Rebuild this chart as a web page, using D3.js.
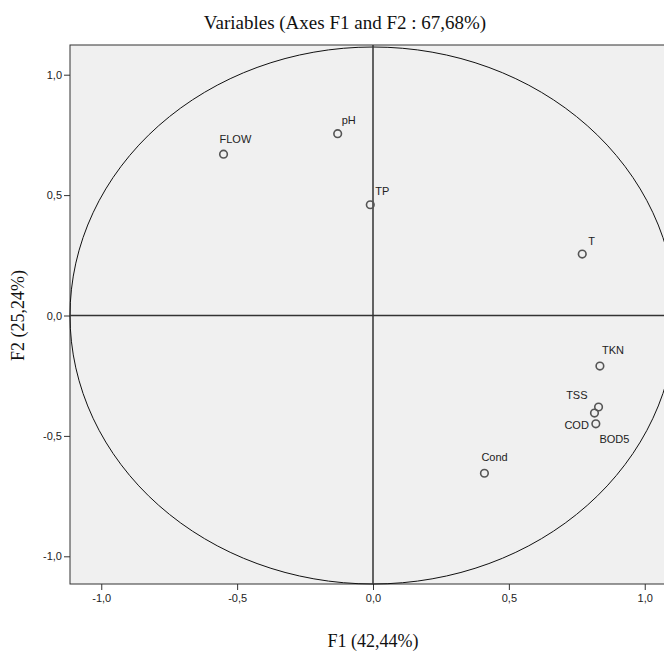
<!DOCTYPE html>
<meta charset="utf-8">
<style>
body { margin: 0; padding: 0; background: #fff; }
svg { display: block; overflow: hidden; }
.frame { fill: #f0f0f0; stroke: #333; stroke-width: 1px; }
.axis text { font-family: "Liberation Sans", Arial, sans-serif; font-size: 11px; fill: #222; }
.axis path { display: none; }
.axis line { stroke: #333; }
.crossline { stroke: #333; stroke-width: 1.5px; }
.circle { fill: none; stroke: #111; stroke-width: 1px; }
.pt { fill: none; stroke: #555; stroke-width: 1.6px; }
.lbl { font-family: "Liberation Sans", Arial, sans-serif; font-size: 11px; fill: #222; }
.ttl { font-family: "Liberation Serif", "Times New Roman", serif; fill: #111; }
</style>
<body>
<div id="chart"></div>
<script src="https://cdn.jsdelivr.net/npm/d3@7"></script>
<script>
// variable loadings on F1 / F2
var names = ["FLOW", "pH", "TP", "T", "TKN", "TSS", "BOD5", "COD", "Cond"];
var f1 = [-0.55, -0.13, -0.01, 0.77, 0.835, 0.83, 0.815, 0.82, 0.41];
var f2 = [0.67, 0.755, 0.46, 0.255, -0.21, -0.38, -0.405, -0.45, -0.655];
var ticks = [-1.0, -0.5, 0.0, 0.5, 1.0];

// label offsets (styling only)
var labelOffset = {
  FLOW: [-4, -11, "start"], pH: [4, -10, "start"], TP: [5, -10, "start"],
  T: [6, -9, "start"], TKN: [2, -12, "start"], TSS: [-11, -8, "end"],
  BOD5: [5, 30, "start"], COD: [-7, 5, "end"], Cond: [-3, -12, "start"]
};

var W = 664, H = 654;
var plotLeft = 70, plotTop = 47, plotBottom = 584, plotRight = 676;

var x = d3.scaleLinear().domain([-1.115, 1.115]).range([plotLeft, plotRight]);
var y = d3.scaleLinear().domain([-1.115, 1.115]).range([plotBottom, plotTop]);

var fmt = function(d) { return d3.format(".1f")(d).replace(".", ",").replace("\u2212", "-"); };

var svg = d3.select("#chart").append("svg")
    .attr("width", W)
    .attr("height", H);

svg.append("rect")
    .attr("class", "frame")
    .attr("x", plotLeft)
    .attr("y", plotTop - 2)
    .attr("width", plotRight - plotLeft)
    .attr("height", plotBottom - plotTop + 2);

svg.append("g")
    .attr("class", "axis")
    .attr("transform", "translate(0," + plotBottom + ")")
    .call(d3.axisBottom(x).tickValues(ticks).tickFormat(fmt).tickSize(6).tickPadding(4));

svg.append("g")
    .attr("class", "axis")
    .attr("transform", "translate(" + plotLeft + ",0)")
    .call(d3.axisLeft(y).tickValues(ticks).tickFormat(fmt).tickSize(6).tickPadding(2));

// correlation circle
svg.append("ellipse")
    .attr("class", "circle")
    .attr("cx", x(0))
    .attr("cy", y(0))
    .attr("rx", x(1.115) - x(0))
    .attr("ry", y(0) - y(1.115));

svg.append("line")
    .attr("class", "crossline")
    .attr("x1", x(0)).attr("x2", x(0))
    .attr("y1", plotTop - 2).attr("y2", plotBottom);

svg.append("line")
    .attr("class", "crossline")
    .attr("x1", plotLeft).attr("x2", plotRight)
    .attr("y1", y(0)).attr("y2", y(0));

var data = names.map(function(n, i) { return {name: n, x: f1[i], y: f2[i]}; });

svg.selectAll(".pt")
    .data(data).enter()
    .append("circle")
    .attr("class", "pt")
    .attr("cx", function(d) { return x(d.x); })
    .attr("cy", function(d) { return y(d.y); })
    .attr("r", 3.8);

svg.selectAll(".lbl")
    .data(data).enter()
    .append("text")
    .attr("class", "lbl")
    .attr("x", function(d) { return x(d.x) + labelOffset[d.name][0]; })
    .attr("y", function(d) { return y(d.y) + labelOffset[d.name][1]; })
    .attr("text-anchor", function(d) { return labelOffset[d.name][2]; })
    .text(function(d) { return d.name; });

svg.append("text")
    .attr("class", "ttl")
    .attr("x", 345)
    .attr("y", 29)
    .attr("text-anchor", "middle")
    .style("font-size", "19px")
    .text("Variables (Axes F1 and F2 : 67,68%)");

svg.append("text")
    .attr("class", "ttl")
    .attr("x", x(0))
    .attr("y", 647)
    .attr("text-anchor", "middle")
    .style("font-size", "18px")
    .text("F1 (42,44%)");

svg.append("text")
    .attr("class", "ttl")
    .attr("transform", "translate(24," + y(0) + ") rotate(-90)")
    .attr("text-anchor", "middle")
    .style("font-size", "18px")
    .text("F2 (25,24%)");
</script>
</body>
